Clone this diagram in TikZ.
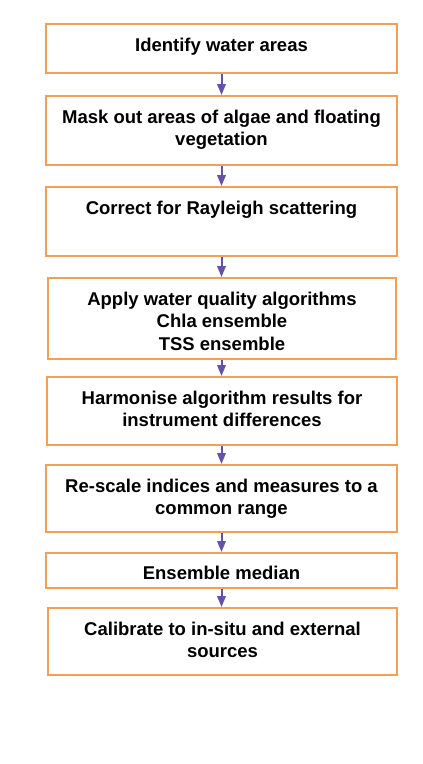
\documentclass[tikz,border=0pt]{standalone}
\usepackage{fontspec}
\setmainfont{Liberation Sans}
\usetikzlibrary{arrows.meta,calc}
\definecolor{boxorange}{RGB}{242,160,88}
\definecolor{arrowpurple}{RGB}{102,80,170}
\begin{document}
\begin{tikzpicture}[x=1pt,y=-1pt,
  flowbox/.style={draw=boxorange,line width=2pt,fill=white,inner sep=0pt,minimum width=351pt},
  flowtext/.style={anchor=base,align=center,inner sep=0pt,font=\fontsize{18.5}{22}\selectfont\bfseries},
  flowarrow/.style={draw=arrowpurple,line width=2pt,-{Triangle[width=8.5pt,length=11pt]}}]
\useasboundingbox (0,0) rectangle (423,764);
% boxes
\node[flowbox,minimum height=49pt] (b1) at (221.5,48.5) {};
\node[flowbox,minimum height=69pt] (b2) at (221.5,130.5) {};
\node[flowbox,minimum height=69pt] (b3) at (221.5,221.5) {};
\node[flowbox,minimum height=81pt,minimum width=348pt] (b4) at (222,318.5) {};
\node[flowbox,minimum height=68pt,minimum width=350pt] (b5) at (222,411) {};
\node[flowbox,minimum height=67pt] (b6) at (221.5,498.5) {};
\node[flowbox,minimum height=35pt] (b7) at (221.5,570.5) {};
\node[flowbox,minimum height=67pt,minimum width=349pt] (b8) at (222.5,641.5) {};
% texts (base anchor = baseline of last line)
\node[flowtext] (t1) at ($(b1.north)+(0,28.5)$) {Identify water areas};
\node[flowtext] (t2) at ($(b2.north)+(0,50.2)$) {Mask out areas of algae and floating\\vegetation};
\node[flowtext] (t3) at ($(b3.north)+(0,28.2)$) {Correct for Rayleigh scattering};
\node[flowtext,font=\fontsize{18.5}{22.5}\selectfont\bfseries] (t4) at ($(b4.north)+(0,73.2)$) {Apply water quality algorithms\\Chla ensemble\\TSS ensemble};
\node[flowtext] (t5) at ($(b5.north)+(0,50.2)$) {Harmonise algorithm results for\\instrument differences};
\node[flowtext] (t6) at ($(b6.north)+(0,50.2)$) {Re-scale indices and measures to a\\common range};
\node[flowtext] (t7) at ($(b7.north)+(0,27.5)$) {Ensemble median};
\node[flowtext] (t8) at ($(b8.north)+(0,50.2)$) {Calibrate to in-situ and external\\sources};
% arrows
\draw[flowarrow] (b1.south) -- (b2.north -| b1.south);
\draw[flowarrow] (b2.south -| b1.south) -- (b3.north -| b1.south);
\draw[flowarrow] (b3.south -| b1.south) -- (b4.north -| b1.south);
\draw[flowarrow] (b4.south -| b1.south) -- (b5.north -| b1.south);
\draw[flowarrow] (b5.south -| b1.south) -- (b6.north -| b1.south);
\draw[flowarrow] (b6.south -| b1.south) -- (b7.north -| b1.south);
\draw[flowarrow] (b7.south -| b1.south) -- (b8.north -| b1.south);
\end{tikzpicture}
\end{document}
